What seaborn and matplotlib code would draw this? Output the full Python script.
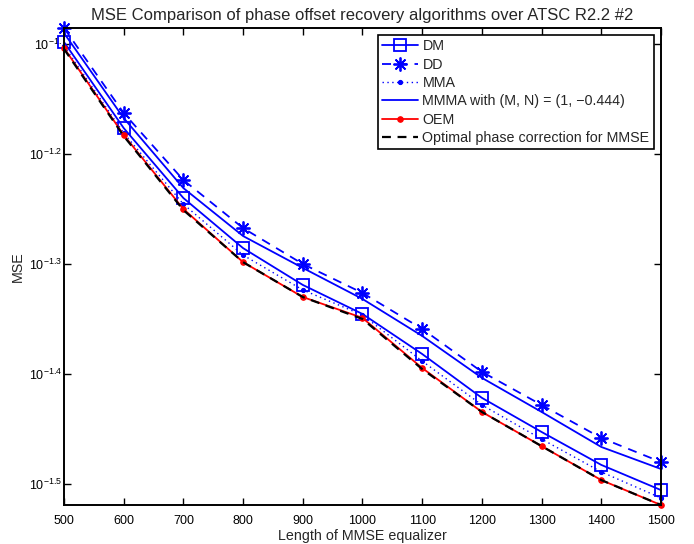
import matplotlib
matplotlib.use("Agg")
import matplotlib.pyplot as plt
import seaborn as sns
import numpy as np
import pandas as pd

# ---- data ----
eq_length = [500, 600, 700, 800, 900, 1000, 1100, 1200, 1300, 1400, 1500]
mse_dm = [0.07977, 0.06662, 0.05754, 0.05181, 0.04797, 0.04514, 0.04151, 0.03787, 0.03526, 0.03291, 0.03122]
mse_dd = [0.08214, 0.06875, 0.05975, 0.05403, 0.05012, 0.04717, 0.04375, 0.03999, 0.03731, 0.03482, 0.03311]
mse_mma = [0.07911, 0.06593, 0.05681, 0.05106, 0.04747, 0.04504, 0.04090, 0.03731, 0.03474, 0.03243, 0.03071]
mse_mmma = [0.08128, 0.06803, 0.05875, 0.05314, 0.04971, 0.04658, 0.04311, 0.03949, 0.03677, 0.03417, 0.03263]
mse_oem = [0.07879, 0.06566, 0.05623, 0.05031, 0.04677, 0.04477, 0.04031, 0.03677, 0.03423, 0.03188, 0.03026]
mse_opt = [0.07862, 0.06552, 0.05611, 0.05031, 0.04677, 0.04467, 0.04022, 0.03677, 0.03423, 0.03188, 0.03026]

series_labels = ["DM", "DD", "MMA", "MMMA with (M, N) = (1, \u22120.444)", "OEM",
                 "Optimal phase correction for MMSE"]
x_ticks = [500, 600, 700, 800, 900, 1000, 1100, 1200, 1300, 1400, 1500]
y_tick_exps = [-1.1, -1.2, -1.3, -1.4, -1.5]
y_tick_labels = ["10$^{-1.}$", "10$^{-1.2}$", "10$^{-1.3}$", "10$^{-1.4}$", "10$^{-1.5}$"]

sns.set_style("ticks")
plt.rcParams["font.family"] = ["Liberation Sans", "DejaVu Sans"]
plt.rcParams["mathtext.fontset"] = "custom"
plt.rcParams["mathtext.rm"] = "Liberation Sans"
plt.rcParams["mathtext.it"] = "Liberation Sans"
plt.rcParams["mathtext.default"] = "regular"

fig = plt.figure(figsize=(6.94, 5.44), dpi=100)
ax = fig.add_axes([0.0922, 0.0717, 0.8602, 0.8768])

blue = "#0000ff"
lw = 1.3

sns.lineplot(x=eq_length, y=mse_dm, ax=ax, color=blue, lw=lw, marker="s", markersize=8,
             markerfacecolor="none", markeredgecolor=blue, markeredgewidth=1.3,
             label=series_labels[0], clip_on=False)
sns.lineplot(x=eq_length, y=mse_dd, ax=ax, color=blue, lw=lw, linestyle=(0, (5, 4)),
             marker=(8, 2, 0), markersize=10, markeredgecolor=blue, markeredgewidth=1.3,
             label=series_labels[1], clip_on=False)
sns.lineplot(x=eq_length, y=mse_mma, ax=ax, color=blue, lw=1.0, linestyle=(0, (1, 2.5)),
             marker="o", markersize=3, markeredgecolor=blue, markerfacecolor=blue,
             label=series_labels[2], clip_on=False)
sns.lineplot(x=eq_length, y=mse_mmma, ax=ax, color=blue, lw=lw, label=series_labels[3],
             clip_on=False)
sns.lineplot(x=eq_length, y=mse_oem, ax=ax, color="#ff0000", lw=lw, marker="o", markersize=4,
             markeredgecolor="#ff0000", markerfacecolor="#ff0000", label=series_labels[4],
             clip_on=False)
sns.lineplot(x=eq_length, y=mse_opt, ax=ax, color="black", lw=1.6, linestyle=(0, (4, 3)),
             label=series_labels[5], clip_on=False)

ax.set_yscale("log")
ax.set_xlim(500, 1500)
all_vals = mse_dm + mse_dd + mse_mma + mse_mmma + mse_oem + mse_opt
ax.set_ylim(min(all_vals), max(all_vals))
ax.set_xticks(x_ticks)
ax.set_xticklabels([str(v) for v in x_ticks])
ax.set_yticks([10 ** e for e in y_tick_exps])
ax.set_yticklabels(y_tick_labels)
ax.yaxis.set_minor_locator(matplotlib.ticker.NullLocator())

ax.tick_params(axis="both", which="major", direction="in", length=5, width=1.0,
               top=True, right=True, labelsize=9, colors="black")
ax.tick_params(axis="y", pad=1.5)
ax.tick_params(axis="x", pad=7)
for sp in ax.spines.values():
    sp.set_visible(True)
    sp.set_linewidth(1.4)
    sp.set_color("black")

ax.set_title("MSE Comparison of phase offset recovery algorithms over ATSC R2.2 #2",
             fontsize=12, pad=6)
ax.set_xlabel("Length of MMSE equalizer", fontsize=10.3, labelpad=2)
ax.set_ylabel("MSE", fontsize=10.3, labelpad=3)

leg = ax.legend(loc="upper right", fontsize=10.3, frameon=True, fancybox=False,
                edgecolor="black", framealpha=1, handlelength=2.5, handletextpad=0.3,
                borderpad=0.3, labelspacing=0.3, borderaxespad=0.5)
leg.get_frame().set_linewidth(1.2)

fig.savefig("out.png", dpi=100)
